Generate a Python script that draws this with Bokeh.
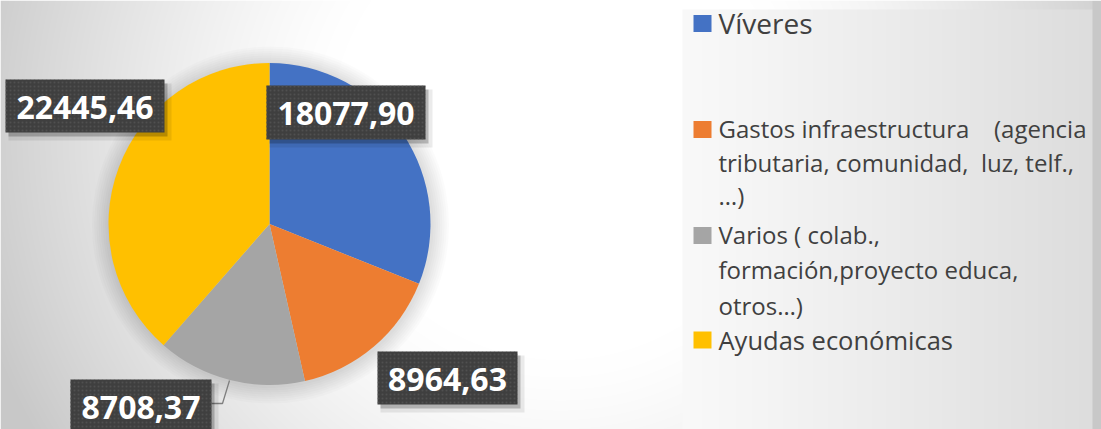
import numpy as np
from bokeh.plotting import figure
from bokeh.models import Range1d, ColumnDataSource
from bokeh.core.properties import value
from bokeh.embed import file_html
from bokeh.resources import INLINE

# ---------------- data ----------------
categories = ["Víveres",
              "Gastos infraestructura (agencia tributaria, comunidad, luz, telf., …)",
              "Varios ( colab., formación,proyecto educa, otros…)",
              "Ayudas económicas"]
values = [18077.90, 8964.63, 8708.37, 22445.46]
colors = ["#4472C4", "#ED7D31", "#A5A5A5", "#FFC000"]
legend_lines = [["Víveres"],
                ["Gastos infraestructura", "tributaria, comunidad,\u00a0 luz, telf.,", "…)"],
                ["Varios ( colab.,", "formación,proyecto educa,", "otros…)"],
                ["Ayudas económicas"]]
legend_extra = "(agencia"

# ---------------- layout (reference pixel space) ----------------
W, H = 1101, 429
X0, X1, YT, YB = 0, 1101, 0, 429


def Y(ry):
    return 429 - ry


p = figure(width=W, height=H, x_range=Range1d(X0, X1), y_range=Range1d(Y(YB), Y(YT)),
           output_backend="svg", toolbar_location=None, min_border=0)
p.axis.visible = False
p.grid.visible = False
p.outline_line_color = None
p.background_fill_color = "white"
p.border_fill_color = "white"

# background gradient (style only)
xs = np.arange(X0, X1) + 0.5
rys = YB - (np.arange(YB - YT) + 0.5)
XX, RY = np.meshgrid(xs, rys)
d = np.sqrt((XX - 560) ** 2 + (RY - 130) ** 2)
v = 255 - 55 * np.clip((d - 230) / 380, 0, 1) ** 1.3
panel = (XX >= 682) & (XX < 1092) & (RY >= 9)
v = np.where(panel, 249 - 28 * ((XX - 682) / 410) ** 1.1, v)
v = np.where(XX >= 1092, 200, v)
v = np.clip(v, 0, 255).astype(np.uint8)
rgba = np.empty((v.shape[0], v.shape[1], 4), dtype=np.uint8)
rgba[..., 0] = v
rgba[..., 1] = v
rgba[..., 2] = v
rgba[..., 3] = 255
img = rgba.view(dtype=np.uint32).reshape(v.shape)
p.image_rgba(image=[img], x=X0, y=Y(YB), dw=X1 - X0, dh=YB - YT)

# pie
cx, cy, r = 269, Y(223.5), 161
for k in range(1, 9):
    p.circle(x=[cx + 1], y=[cy - 1], radius=r + k * 2.2, fill_color="black",
             fill_alpha=0.016, line_color=None)

vals = np.array(values)
cum = np.concatenate([[0], np.cumsum(vals)]) / vals.sum()
src = ColumnDataSource(dict(start=np.pi / 2 - 2 * np.pi * cum[:-1],
                            end=np.pi / 2 - 2 * np.pi * cum[1:],
                            color=colors, cat=categories, val=values))
p.wedge(x=cx, y=cy, radius=r, start_angle="start", end_angle="end", direction="clock",
        fill_color="color", line_color=None, source=src)

# leader line for grey slice
p.line(x=[229, 222, 211], y=[Y(380), Y(403), Y(403)], line_color="#7f7f7f", line_width=1.3)

# data labels
box_cx = [345.5, 447, 140.5, 84.5]
box_cy = [112, 377.5, 405.5, 105.5]
box_w = [159, 140, 141, 159]
box_h = [54, 53, 53, 53]
labels = [f"{val:.2f}".replace(".", ",") for val in values]
bcy = [Y(c) for c in box_cy]
p.rect(x=[c + 5 for c in box_cx], y=[c - 6 for c in bcy], width=[w + 4 for w in box_w],
       height=[h + 4 for h in box_h], fill_color="black", fill_alpha=0.08, line_color=None)
p.rect(x=[c + 3 for c in box_cx], y=[c - 4 for c in bcy], width=box_w, height=box_h,
       fill_color="black", fill_alpha=0.22, line_color=None)
p.rect(x=box_cx, y=bcy, width=box_w, height=box_h, fill_color="#3f3f3f", line_color=None,
       hatch_pattern="dot", hatch_color="#505050", hatch_scale=4, hatch_weight=1)
p.text(x=box_cx, y=[c - 1 for c in bcy], text=labels, text_font=value("Open Sans"),
       text_font_style="bold", text_font_size="32px", text_color="white",
       text_align="center", text_baseline="middle")

# legend
sq_y = [23, 129, 235, 339.5]
p.rect(x=[702] * 4, y=[Y(s) for s in sq_y], width=18, height=17, fill_color=colors, line_color=None)
mids = [[22.5], [128, 161.5, 195], [233.5, 269, 305], [339]]
tx, ty, ts = [], [], []
for lines, ms in zip(legend_lines, mids):
    for t, m in zip(lines, ms):
        tx.append(718)
        ty.append(Y(m))
        ts.append(t)
p.text(x=tx[:1], y=ty[:1], text=ts[:1], text_font=value("Open Sans"), text_font_size="28px",
       text_color="#404040", text_baseline="middle")
p.text(x=tx[1:-1], y=ty[1:-1], text=ts[1:-1], text_font=value("Open Sans"), text_font_size="24px",
       text_color="#404040", text_baseline="middle")
p.text(x=tx[-1:], y=ty[-1:], text=ts[-1:], text_font=value("Open Sans"), text_font_size="25.5px",
       text_color="#404040", text_baseline="middle")
p.text(x=[1086], y=[Y(128)], text=[legend_extra], text_font=value("Open Sans"),
       text_font_size="24px", text_color="#404040", text_align="right", text_baseline="middle")

open("out.html", "w").write(file_html(p, INLINE))
